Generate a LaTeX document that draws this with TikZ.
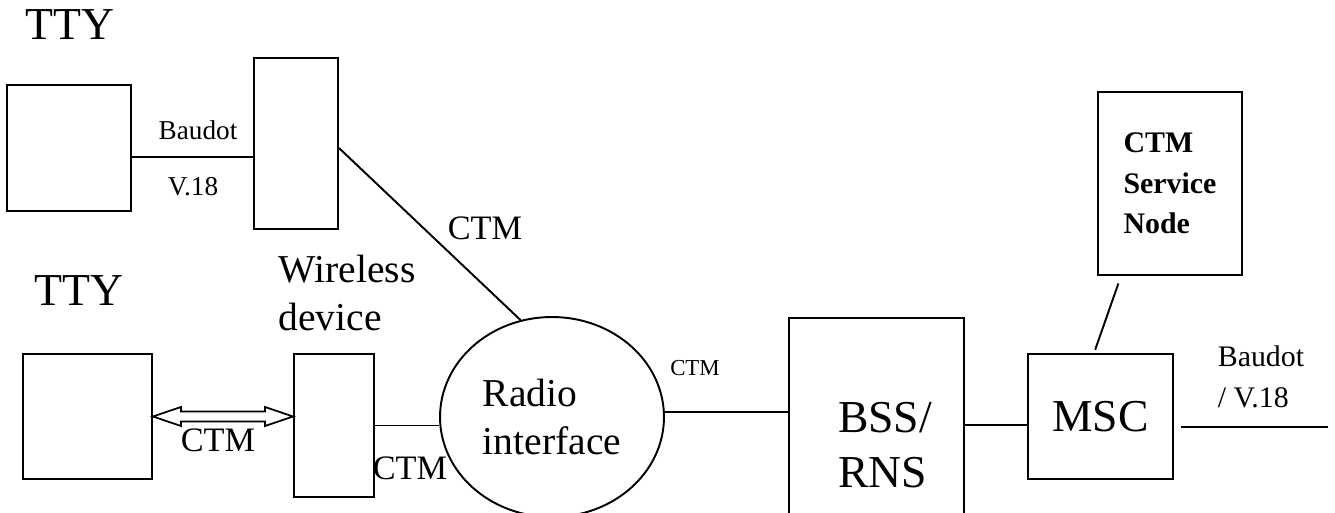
\documentclass[tikz,border=0pt]{standalone}
\usepackage{fontspec}
\setmainfont{Liberation Serif}
\usetikzlibrary{calc,shapes.geometric}

\tikzset{
  blk/.style={draw, line width=1.1pt, inner sep=0pt},
  huge/.style={font=\fontsize{26}{31}\selectfont},
  large/.style={font=\fontsize{22.5}{27}\selectfont},
  mid/.style={font=\fontsize{19.5}{23}\selectfont},
  small/.style={font=\fontsize{15.5}{19}\selectfont},
  tiny/.style={font=\fontsize{13}{16}\selectfont},
}

\begin{document}
\begin{tikzpicture}[x=0.02cm, y=-0.02cm, line width=1.1pt]
  \useasboundingbox (0,0) rectangle (1335,513);

  % boxes
  \node[blk, minimum width=2.48cm, minimum height=2.52cm] (tty1) at (69,148) {};
  \node[blk, minimum width=1.68cm, minimum height=3.42cm] (dev1) at (296,143.5) {};
  \node[blk, minimum width=2.58cm, minimum height=2.5cm] (tty2) at (87.5,416.5) {};
  \node[blk, minimum width=1.6cm, minimum height=2.86cm] (dev2) at (334,425.5) {};
  \node[blk, ellipse, minimum width=4.48cm, minimum height=4cm, large, align=left] (radio) at (552,417) {Radio\\interface};
  \node[blk, minimum width=3.5cm, minimum height=5.08cm] (bss) at (876.5,445) {};
  \node[blk, minimum width=2.9cm, minimum height=2.5cm, huge] (msc) at (1100.5,416.5) {MSC};
  \node[blk, minimum width=2.88cm, minimum height=3.66cm, align=left,
        font=\fontsize{17}{23}\selectfont\bfseries] (ctmsn) at (1170,183.5) {CTM\\Service\\Node};
  \coordinate (pstn) at (1328,427);

  % texts
  \node[huge] (ttylbl1) at (70,25) {TTY};
  \node[huge] (ttylbl2) at (79,291) {TTY};
  \node[large, align=left] (wdlbl) at (347,293) {Wireless\\device};
  \node[huge, align=left] (bsslbl) at (885,445) {BSS/\\RNS};
  \node[small] (baudot1) at (198,130) {Baudot};
  \node[small] (v18a) at (193,187) {V.18};
  \node[mid] (ctm1) at (485,228) {CTM};
  \node[mid] (ctm2) at (218,440) {CTM};
  \node[mid] (ctm3) at (410,468) {CTM};
  \node[tiny] (ctm4) at (695,368) {CTM};
  \node[font=\fontsize{17}{23}\selectfont, align=left] (baudot2) at (1261,377) {Baudot\\/ V.18};

  % connectors
  \draw ([yshift=-0.18cm]tty1.east) -- ([yshift=-0.18cm]tty1.east -| dev1.west);
  \draw ([yshift=-0.09cm]dev1.east) -- (radio.108);
  \draw (dev2.east) -- (dev2.east -| radio.west);
  \draw ([yshift=0.1cm]radio.east) -- ([yshift=0.1cm]radio.east -| bss.west);
  \draw ([yshift=-0.17cm]msc.west -| bss.east) -- ([yshift=-0.17cm]msc.west);
  \draw[shorten <=2pt, shorten >=0.16cm] ([xshift=-0.13cm]msc.north) -- ([xshift=-0.98cm]ctmsn.south);
  \draw[shorten <=0.14cm] (msc.east |- pstn) -- (pstn);

  \draw[line width=1pt] (tty2.east) -- ++(28,-9.5) -- ++(0,4.5)
    -- ($(tty2.east -| dev2.west)+(-28,-5)$) -- ++(0,-4.5) -- (tty2.east -| dev2.west)
    -- ++(-28,9.5) -- ++(0,-4.5) -- ($(tty2.east)+(28,5)$) -- ++(0,4.5) -- cycle;

\end{tikzpicture}
\end{document}
